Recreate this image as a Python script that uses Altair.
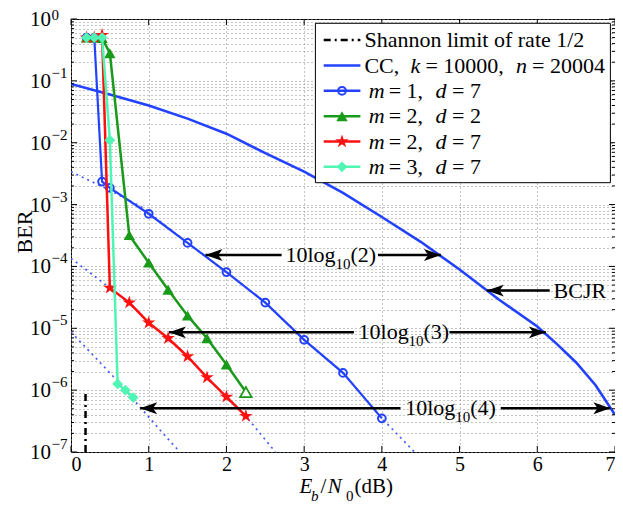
import altair as alt
import pandas as pd

# ---------------- data ----------------
cc_x = [0, 0.5, 1, 1.5, 2, 2.5, 3, 3.5, 4, 4.5, 5, 5.5, 6, 6.25, 6.5, 6.75, 7]
cc_ber = [8.9e-2, 6.0e-2, 4.0e-2, 2.45e-2, 1.4e-2, 6.8e-3, 3.4e-3, 1.55e-3,
          6.3e-4, 2.5e-4, 8.9e-5, 2.95e-5, 1.07e-5, 5.6e-6, 2.8e-6, 1.2e-6, 4.0e-7]

m1_x = [0.2, 0.3, 0.4, 0.5, 1.0, 1.5, 2.0, 2.5, 3.0, 3.5, 4.0]
m1_ber = [0.50, 0.49, 2.35e-3, 1.86e-3, 7.1e-4, 2.4e-4, 8.1e-5, 2.6e-5, 6.5e-6, 1.9e-6, 3.5e-7]

m2d2_x = [0.2, 0.3, 0.4, 0.5, 0.75, 1.0, 1.25, 1.5, 1.75, 2.0, 2.25]
m2d2_ber = [0.50, 0.50, 0.49, 0.28, 3.2e-4, 1.15e-4, 4.2e-5, 1.6e-5, 6.9e-6, 2.6e-6, 9.3e-7]

m2d7_x = [0.2, 0.3, 0.4, 0.5, 0.75, 1.0, 1.25, 1.5, 1.75, 2.0, 2.25]
m2d7_ber = [0.50, 0.50, 0.55, 4.5e-5, 2.6e-5, 1.23e-5, 6.9e-6, 3.5e-6, 1.6e-6, 7.8e-7, 3.8e-7]

m3_x = [0.2, 0.3, 0.4, 0.5, 0.6, 0.7, 0.8]
m3_ber = [0.50, 0.50, 0.50, 1.1e-2, 1.26e-6, 1.0e-6, 7.6e-7]

bound1_x = [0, 0.5, 0.91, 1.5, 2.0, 2.5, 3.0, 3.5, 4.0, 4.42]
bound1_ber = [3.4e-3, 1.7e-3, 9.1e-4, 2.4e-4, 8.1e-5, 2.6e-5, 6.5e-6, 1.9e-6, 3.5e-7, 1.0e-7]
bound2_x = [0, 0.5, 0.75, 1.0, 1.25, 1.5, 1.75, 2.0, 2.25, 2.63]
bound2_ber = [1.35e-4, 4.5e-5, 2.6e-5, 1.23e-5, 6.9e-6, 3.5e-6, 1.6e-6, 7.8e-7, 3.8e-7, 1.0e-7]
bound3_x = [0, 0.3, 0.6, 0.9, 1.2, 1.4]
bound3_ber = [8.7e-6, 3.5e-6, 1.4e-6, 5.1e-7, 1.9e-7, 1.0e-7]

shannon_x = [0.187, 0.187]
shannon_ber = [1e-7, 1e-6]

# annotation arrows "10log10(k)"
gain_text = ["(2)", "(3)", "(4)"]
gain_ber = [1.53e-4, 8.6e-6, 5.1e-7]
gain_left_tip = [1.73, 1.26, 0.89]
gain_left_end = [2.71, 3.64, 4.24]
gain_text_x = [2.76, 3.70, 4.30]
gain_right_start = [3.95, 4.87, 5.53]
gain_right_tip = [4.76, 6.11, 6.94]

bcjr_ber = [4.07e-5]
bcjr_tip = [5.35]
bcjr_start = [6.16]
bcjr_text_x = [6.21]

x_ticks = [0, 1, 2, 3, 4, 5, 6, 7]
y_decades = [1, 1e-1, 1e-2, 1e-3, 1e-4, 1e-5, 1e-6, 1e-7]
y_exps = ["0", "\u22121", "\u22122", "\u22123", "\u22124", "\u22125", "\u22126", "\u22127"]
y_minor = [m * 10.0 ** k for k in range(-7, 0) for m in range(2, 10)]

legend_m = ["1", "2", "2", "3"]
legend_d = ["7", "2", "7", "7"]

# ---------------- styling ----------------
FONT = "Liberation Serif, Times New Roman, Times, serif"
W, H = 544, 433
BLUE = "#2242ff"
GREEN = "#1a9a1a"
RED = "#ff1010"
CYAN = "#50f5b4"
BOUND = "#3a55ff"
STAR = ("M0,-1L0.225,-0.309L0.951,-0.309L0.363,0.118L0.588,0.809L0,0.382"
        "L-0.588,0.809L-0.363,0.118L-0.951,-0.309L-0.225,-0.309Z")
HEAD_R = "M0,0L-2,-0.7L-1.5,0L-2,0.7Z"
HEAD_L = "M0,0L2,-0.7L1.5,0L2,0.7Z"

xs = alt.Scale(domain=[0, 7], nice=False, zero=False)
ys = alt.Scale(type="log", domain=[1e-7, 1], nice=False)

X_AXIS = alt.Axis(values=x_ticks, format="d", grid=True, gridDash=[1, 3], gridColor="#8a8a8a",
                  gridWidth=1, ticks=False, domain=False, title=None, labelFont=FONT,
                  labelFontSize=20, labelColor="black", labelPadding=2)
Y_AXIS = alt.Axis(values=y_decades + y_minor, grid=True, gridDash=[1, 3], gridColor="#8a8a8a",
                  gridWidth=1, ticks=False, labels=False, domain=False, title=None)


def X(f="x"):
    return alt.X(f"{f}:Q", scale=xs, axis=X_AXIS)


def Y(f="y"):
    return alt.Y(f"{f}:Q", scale=ys, axis=Y_AXIS)


def frame(xv, yv):
    return pd.DataFrame({"x": xv, "y": yv, "i": list(range(len(xv)))})


def line(df, color, width, dash=None):
    kw = dict(color=color, strokeWidth=width, clip=True)
    if dash:
        kw["strokeDash"] = dash
    return alt.Chart(df).mark_line(**kw).encode(x=X(), y=Y(), order=alt.Order("i:Q"))


def points(df, shape, size, color, filled=True, fill=None, sw=1.5):
    kw = dict(shape=shape, size=size, opacity=1, strokeWidth=sw, clip=True, color=color,
              filled=filled)
    if fill:
        kw.update(fill=fill, stroke=color, filled=True)
    return alt.Chart(df).mark_point(**kw).encode(x=X(), y=Y())


one = pd.DataFrame({"a": [0]})


def pix_rule(x1, x2, y, **kw):
    return alt.Chart(one).mark_rule(**kw).encode(
        x=alt.value(x1), x2=alt.value(x2), y=alt.value(y))


def pix_point(x, y, **kw):
    return alt.Chart(one).mark_point(opacity=1, **kw).encode(x=alt.value(x), y=alt.value(y))


def pix_text(x, y, txt, size=22, italic=False, align="left", angle=None):
    kw = dict(text=txt, font=FONT, fontSize=size, align=align, baseline="middle", color="black")
    if italic:
        kw["fontStyle"] = "italic"
    if angle is not None:
        kw["angle"] = angle
    return alt.Chart(one).mark_text(**kw).encode(x=alt.value(x), y=alt.value(y))


layers = []

# bounds (dotted)
for bx, by in [(bound1_x, bound1_ber), (bound2_x, bound2_ber), (bound3_x, bound3_ber)]:
    layers.append(line(frame(bx, by), BOUND, 1.6, [2, 4]))

# Shannon limit
layers.append(line(frame(shannon_x, shannon_ber), "black", 2.5, [7, 4, 2, 4]))

# CC curve
layers.append(line(frame(cc_x, cc_ber), BLUE, 2.6))

# m=1, d=7
d = frame(m1_x, m1_ber)
layers.append(line(d, BLUE, 2.2))
layers.append(points(d, "circle", 60, BLUE, filled=False, sw=2))

# m=2, d=2
d = frame(m2d2_x, m2d2_ber)
layers.append(line(d, GREEN, 2.5))
layers.append(points(frame(m2d2_x[:-1], m2d2_ber[:-1]), "triangle-up", 130, GREEN))
layers.append(points(frame(m2d2_x[-1:], m2d2_ber[-1:]), "triangle-up", 130, GREEN,
                     fill="white", sw=1.8))

# m=2, d=7
d = frame(m2d7_x, m2d7_ber)
layers.append(line(d, RED, 2.5))
layers.append(points(d, STAR, 200, RED))

# m=3, d=7
d = frame(m3_x, m3_ber)
layers.append(line(d, CYAN, 2.5))
layers.append(points(d, "diamond", 115, CYAN))

# annotation arrows
ga = pd.DataFrame({"y": gain_ber, "lt": gain_left_tip, "le": gain_left_end,
                   "tx": gain_text_x, "rs": gain_right_start, "rt": gain_right_tip,
                   "t": gain_text})
layers.append(alt.Chart(ga).mark_rule(color="black", strokeWidth=2.5).encode(
    x=X("lt"), x2="le:Q", y=Y()))
layers.append(alt.Chart(ga).mark_rule(color="black", strokeWidth=2.5).encode(
    x=X("rs"), x2="rt:Q", y=Y()))
layers.append(alt.Chart(ga).mark_point(shape=HEAD_L, size=289, filled=True, color="black",
                                       opacity=1, strokeWidth=0).encode(x=X("lt"), y=Y()))
layers.append(alt.Chart(ga).mark_point(shape=HEAD_R, size=289, filled=True, color="black",
                                       opacity=1, strokeWidth=0).encode(x=X("rt"), y=Y()))
layers.append(alt.Chart(ga).mark_text(text="10log", font=FONT, fontSize=22, align="left",
                                      baseline="middle", color="black").encode(x=X("tx"), y=Y()))
layers.append(alt.Chart(ga).mark_text(text="10", font=FONT, fontSize=15, align="left",
                                      baseline="middle", color="black", dx=50, dy=9).encode(
    x=X("tx"), y=Y()))
layers.append(alt.Chart(ga).mark_text(font=FONT, fontSize=22, align="left",
                                      baseline="middle", color="black", dx=65).encode(
    x=X("tx"), y=Y(), text="t:N"))

bc = pd.DataFrame({"y": bcjr_ber, "tip": bcjr_tip, "st": bcjr_start, "tx": bcjr_text_x})
layers.append(alt.Chart(bc).mark_rule(color="black", strokeWidth=2.5).encode(
    x=X("tip"), x2="st:Q", y=Y()))
layers.append(alt.Chart(bc).mark_point(shape=HEAD_L, size=289, filled=True, color="black",
                                       opacity=1, strokeWidth=0).encode(x=X("tip"), y=Y()))
layers.append(alt.Chart(bc).mark_text(text="BCJR", font=FONT, fontSize=22, align="left",
                                      baseline="middle", color="black").encode(x=X("tx"), y=Y()))

# inward ticks
xt = pd.DataFrame({"x": x_ticks})
layers.append(alt.Chart(xt).mark_rule(color="black", strokeWidth=1).encode(
    x=X(), y=alt.value(H), y2=alt.value(H - 6)))
layers.append(alt.Chart(xt).mark_rule(color="black", strokeWidth=1).encode(
    x=X(), y=alt.value(0), y2=alt.value(6)))
yt = pd.DataFrame({"y": y_decades})
ym = pd.DataFrame({"y": y_minor})
for df_, ln in [(yt, 6), (ym, 3)]:
    layers.append(alt.Chart(df_).mark_rule(color="black", strokeWidth=1).encode(
        y=Y(), x=alt.value(0), x2=alt.value(ln)))
    layers.append(alt.Chart(df_).mark_rule(color="black", strokeWidth=1).encode(
        y=Y(), x=alt.value(W), x2=alt.value(W - ln)))

# y tick labels 10^k
yl = pd.DataFrame({"y": y_decades, "e": y_exps})
layers.append(alt.Chart(yl).mark_text(text="10", font=FONT, fontSize=21, align="right",
                                      baseline="middle", color="black", dy=1).encode(
    x=alt.value(-20), y=Y()))
layers.append(alt.Chart(yl.iloc[1:]).mark_text(font=FONT, fontSize=15, align="left",
                                               baseline="middle", color="black", dy=-8).encode(
    x=alt.value(-19.5), y=Y(), text="e:N"))
layers.append(alt.Chart(yl.iloc[:1]).mark_text(font=FONT, fontSize=15, align="left",
                                               baseline="middle", color="black", dy=-4).encode(
    x=alt.value(-19.5), y=Y(), text="e:N"))

# axis titles
layers.append(pix_text(-46, 213, "BER", size=22, align="center", angle=270))
layers.append(pix_text(228.4, 468, "E", size=21, italic=True))
layers.append(pix_text(240.0, 476.5, "b", size=15, italic=True))
layers.append(pix_text(249.5, 468, "/", size=21))
layers.append(pix_text(256.7, 468, "N", size=21, italic=True))
layers.append(pix_text(275.0, 477, "0", size=15))
layers.append(pix_text(283.5, 468, "(dB)", size=21))

# legend
layers.append(alt.Chart(one).mark_rect(fill="white", stroke="black", strokeWidth=1).encode(
    x=alt.value(244.4), x2=alt.value(539.4), y=alt.value(4.3), y2=alt.value(163.7)))
rows_y = [21, 46.5, 71.8, 97.2, 122.5, 147.8]
LX1, LX2, LXM = 252.7, 289.4, 271.0
layers.append(pix_rule(LX1, LX2, rows_y[0], color="black", strokeWidth=2.5,
                       strokeDash=[7, 4, 2, 4]))
layers.append(pix_text(293.4, rows_y[0], "Shannon limit of rate 1/2"))
layers.append(pix_rule(LX1, LX2, rows_y[1], color=BLUE, strokeWidth=2.6))
layers.append(pix_text(293.4, rows_y[1], "CC,"))
layers.append(pix_text(339.4, rows_y[1], "k", italic=True))
layers.append(pix_text(354.4, rows_y[1], "= 10000,"))
layers.append(pix_text(445.0, rows_y[1], "n", italic=True))
layers.append(pix_text(461.0, rows_y[1], "= 20004"))

styles = [
    (BLUE, dict(shape="circle", size=60, filled=False, color=BLUE, strokeWidth=2)),
    (GREEN, dict(shape="triangle-up", size=130, filled=True, color=GREEN)),
    (RED, dict(shape=STAR, size=200, filled=True, color=RED)),
    (CYAN, dict(shape="diamond", size=115, filled=True, color=CYAN)),
]
for j, (col, pkw) in enumerate(styles):
    ry = rows_y[2 + j]
    layers.append(pix_rule(LX1, LX2, ry, color=col, strokeWidth=2.5))
    layers.append(pix_point(LXM, ry, **pkw))
    layers.append(pix_text(297.7, ry, "m", italic=True))
    layers.append(pix_text(317.7, ry, "= " + legend_m[j] + ","))
    layers.append(pix_text(364.4, ry, "d", italic=True))
    layers.append(pix_text(381.0, ry, "= " + legend_d[j]))

chart = alt.layer(*layers).properties(
    width=W, height=H,
    padding={"left": 63, "top": 11, "right": 0, "bottom": 52},
    autosize=alt.AutoSizeParams(type="none"),
    background="white",
).configure_view(stroke="black", strokeWidth=1)

chart.save("out.html", embed_options={"renderer": "svg", "actions": False})
